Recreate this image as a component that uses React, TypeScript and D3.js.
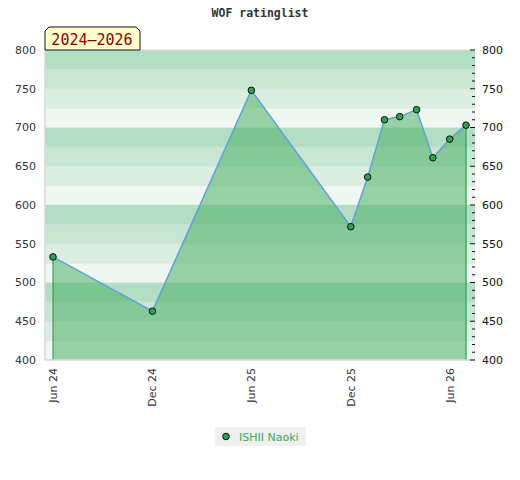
import * as d3 from 'd3';

// monthly rating snapshots
const dates = ['2024-06-01', '2024-12-01', '2025-06-01', '2025-12-01', '2026-01-01', '2026-02-01',
  '2026-03-01', '2026-04-01', '2026-05-01', '2026-06-01', '2026-07-01'];
const ratings = [533, 463, 748, 572, 636, 710, 714, 723, 661, 685, 703];
const tickDates = ['2024-06-01', '2024-12-01', '2025-06-01', '2025-12-01', '2026-06-01'];
const yTicks = [400, 450, 500, 550, 600, 650, 700, 750, 800];
const playerName = 'ISHII Naoki';
const periodLabel = '2024–2026';
const chartTitle = 'WOF ratinglist';

const W = 520, H = 480;
const L = 45, R = 475, T = 50, B = 360;
const BAND_COLORS = ['#eef7f1', '#daeee1', '#c7e7d2', '#b3dec3'];
const SANS = 'DejaVu Sans, Verdana, sans-serif';
const MONO = 'DejaVu Sans Mono, monospace';

const parse = d3.utcParse('%Y-%m-%d');

export default function App() {
  const pts = dates.map((d, i) => ({ date: parse(d)!, v: ratings[i] }));
  const x = d3.scaleUtc()
    .domain(d3.extent(pts, d => d.date) as [Date, Date])
    .range([53, 466]);
  const y = d3.scaleLinear().domain([400, 800]).range([B, T]);

  const bands = d3.range(400, 800, 25);
  const minor = d3.range(400, 801, 10);
  const fmt = d3.utcFormat('%b %y');

  const area = d3.area<{ date: Date; v: number }>()
    .x(d => x(d.date)).y0(B).y1(d => y(d.v));
  const line = d3.line<{ date: Date; v: number }>()
    .x(d => x(d.date)).y(d => y(d.v));

  const first = pts[0], last = pts[pts.length - 1];

  return (
    <svg width={W} height={H} style={{ display: 'block', margin: '-8px 0 0 -8px' }}>
      <rect width={W} height={H} fill="#fff" />
      <text x={260} y={17} textAnchor="middle" fontFamily={MONO} fontWeight="bold"
        fontSize={11.5} fill="#333">{chartTitle}</text>

      {/* background bands */}
      {bands.map(v => (
        <rect key={v} x={L} y={y(v + 25)} width={R - L} height={y(v) - y(v + 25)}
          fill={BAND_COLORS[((v - 400) / 25) % 4]} />
      ))}
      {bands.slice(1).map(v => (
        <line key={v} x1={L} x2={R} y1={y(v)} y2={y(v)} stroke="#ccc" strokeOpacity={0.25} />
      ))}

      {/* area + line */}
      <path d={area(pts) ?? ''} fill="rgb(67,172,94)" fillOpacity={0.5} />
      <line x1={x(first.date)} x2={x(first.date)} y1={y(first.v)} y2={B} stroke="#2f8f4c" strokeWidth={1} />
      <line x1={x(last.date)} x2={x(last.date)} y1={y(last.v)} y2={B} stroke="#3bb05e" strokeWidth={1.5} />
      <path d={line(pts) ?? ''} fill="none" stroke="#5fa2d8" strokeWidth={1.5} />
      {pts.map((d, i) => (
        <circle key={i} cx={x(d.date)} cy={y(d.v)} r={3.3} fill="#2e9e50" stroke="#111" strokeWidth={1} />
      ))}

      {/* frame */}
      <path d={`M${L},${T}V${B}H${R}`} fill="none" stroke="#d8d8d8" strokeWidth={1.5} />
      <line x1={L} x2={R} y1={T} y2={T} stroke="#ddd" strokeWidth={1} />

      {/* right minor ticks */}
      {minor.map(v => (
        <line key={v} x1={v % 50 === 0 ? 470 : 472} x2={475} y1={y(v)} y2={y(v)} stroke="#111" strokeWidth={1} />
      ))}

      {/* y labels */}
      {yTicks.map(v => (
        <g key={v} fontFamily={SANS} fontSize={11} fill="#333">
          <text x={36} y={y(v)} dy="0.35em" textAnchor="end">{v}</text>
          <text x={482} y={y(v)} dy="0.35em" fill="#111">{v}</text>
        </g>
      ))}

      {/* x labels */}
      {tickDates.map(s => {
        const d = parse(s)!;
        return (
          <text key={s} transform={`translate(${x(d)},${368}) rotate(-90)`} dy="0.35em"
            textAnchor="end" fontFamily={SANS} fontSize={11} fill="#333">{fmt(d)}</text>
        );
      })}

      {/* period label */}
      <path d="M45,50V31L49,27H136L140,31V50Z" fill="#ffffcc" stroke="#111" strokeWidth={1} />
      <text x={92} y={45} textAnchor="middle" fontFamily={MONO} fontSize={15} fill="#8b0000">{periodLabel}</text>

      {/* legend */}
      <rect x={215} y={427} width={91} height={19} fill="#f0f0f0" />
      <circle cx={226} cy={436.5} r={3.3} fill="#2e9e50" stroke="#111" strokeWidth={1} />
      <text x={239} y={440.5} fontFamily={SANS} fontSize={11} fill="#3aaa5c">{playerName}</text>
    </svg>
  );
}
